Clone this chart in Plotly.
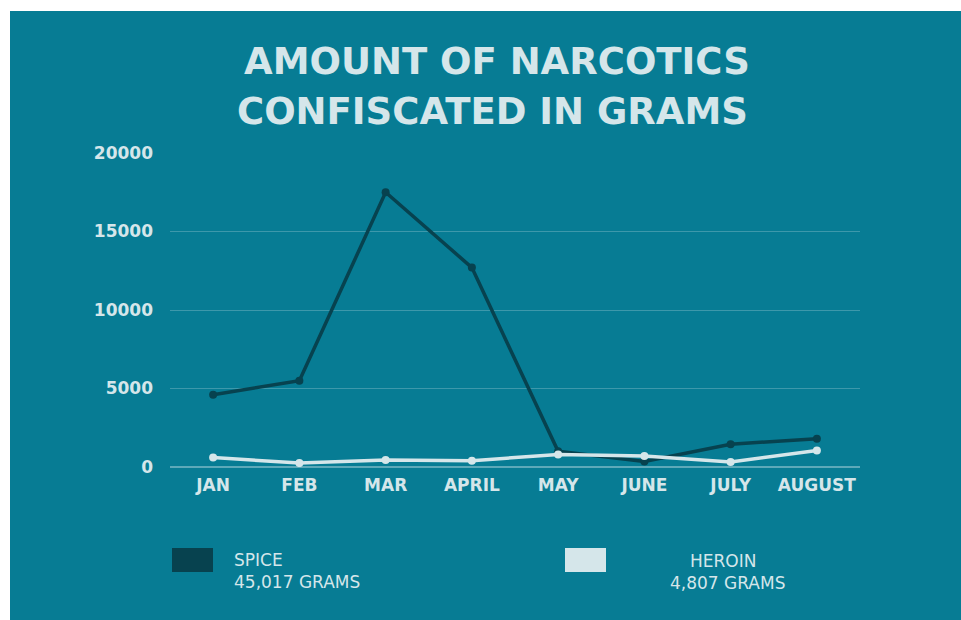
import plotly.graph_objects as go

months = ["JAN", "FEB", "MAR", "APRIL", "MAY", "JUNE", "JULY", "AUGUST"]
spice = [4600, 5500, 17500, 12700, 1000, 350, 1450, 1800]
heroin = [600, 250, 450, 400, 800, 700, 320, 1050]
y_ticks = [0, 5000, 10000, 15000, 20000]
title_lines = ["AMOUNT OF NARCOTICS", "CONFISCATED IN GRAMS"]
legend_names = ["SPICE", "HEROIN"]
legend_totals = ["45,017 GRAMS", "4,807 GRAMS"]

TEAL = "#077c94"
DARK = "#07424f"
LIGHT = "#d5e6ea"
FONT = "DejaVu Sans"

W, H = 961, 620

fig = go.Figure()
fig.add_trace(go.Scatter(x=months, y=spice, mode="lines+markers", name="SPICE",
                         line=dict(color=DARK, width=3.5), marker=dict(size=8, color=DARK)))
fig.add_trace(go.Scatter(x=months, y=heroin, mode="lines+markers", name="HEROIN",
                         line=dict(color=LIGHT, width=3.5), marker=dict(size=8, color=LIGHT)))

def px(x):
    return x / W

def py(y):
    return 1 - y / H

shapes = [
    dict(type="rect", xref="paper", yref="paper", x0=px(10), x1=1, y0=0, y1=py(11),
         fillcolor=TEAL, line=dict(width=0), layer="below"),
    dict(type="rect", xref="paper", yref="paper", x0=px(172), x1=px(213), y0=py(572), y1=py(548),
         fillcolor=DARK, line=dict(width=0)),
    dict(type="rect", xref="paper", yref="paper", x0=px(565), x1=px(606), y0=py(572), y1=py(548),
         fillcolor=LIGHT, line=dict(width=0)),
]

title_font = dict(family=FONT, size=37, color=LIGHT, weight="bold")
leg_font = dict(family=FONT, size=17, color=LIGHT)

annotations = [
    dict(text=title_lines[0], x=px(497), y=py(62), xref="paper", yref="paper", showarrow=False,
         font=title_font, xanchor="center", yanchor="middle"),
    dict(text=title_lines[1], x=px(493), y=py(111), xref="paper", yref="paper", showarrow=False,
         font=title_font, xanchor="center", yanchor="middle"),
    dict(text=legend_names[0], x=px(232), y=py(560), xref="paper", yref="paper", showarrow=False,
         font=leg_font, xanchor="left", yanchor="middle"),
    dict(text=legend_totals[0], x=px(232), y=py(582), xref="paper", yref="paper", showarrow=False,
         font=leg_font, xanchor="left", yanchor="middle"),
    dict(text=legend_names[1], x=px(723), y=py(561), xref="paper", yref="paper", showarrow=False,
         font=leg_font, xanchor="center", yanchor="middle"),
    dict(text=legend_totals[1], x=px(727), y=py(583), xref="paper", yref="paper", showarrow=False,
         font=leg_font, xanchor="center", yanchor="middle"),
]

tick_font = dict(family=FONT, size=17, color=LIGHT, weight="bold")

fig.update_layout(
    width=W, height=H,
    margin=dict(l=0, r=0, t=0, b=0, pad=0),
    paper_bgcolor="white",
    plot_bgcolor="rgba(0,0,0,0)",
    showlegend=False,
    shapes=shapes,
    annotations=annotations,
    xaxis=dict(domain=[px(170), px(860)], range=[-0.5, 7.5], showgrid=False, zeroline=False,
               showline=False, ticks="", tickfont=tick_font, ticklabelstandoff=6, automargin=False),
    yaxis=dict(domain=[py(467), py(153)], range=[0, 20000], tickvals=y_ticks,
               ticktext=[str(v) for v in y_ticks], showgrid=True,
               gridcolor="rgba(255,255,255,0.22)", gridwidth=1, zeroline=True,
               zerolinecolor="rgba(255,255,255,0.35)", zerolinewidth=1.5, showline=False, ticks="",
               tickfont=tick_font, ticklabelstandoff=16, automargin=False),
)

fig.write_html("out.html")
